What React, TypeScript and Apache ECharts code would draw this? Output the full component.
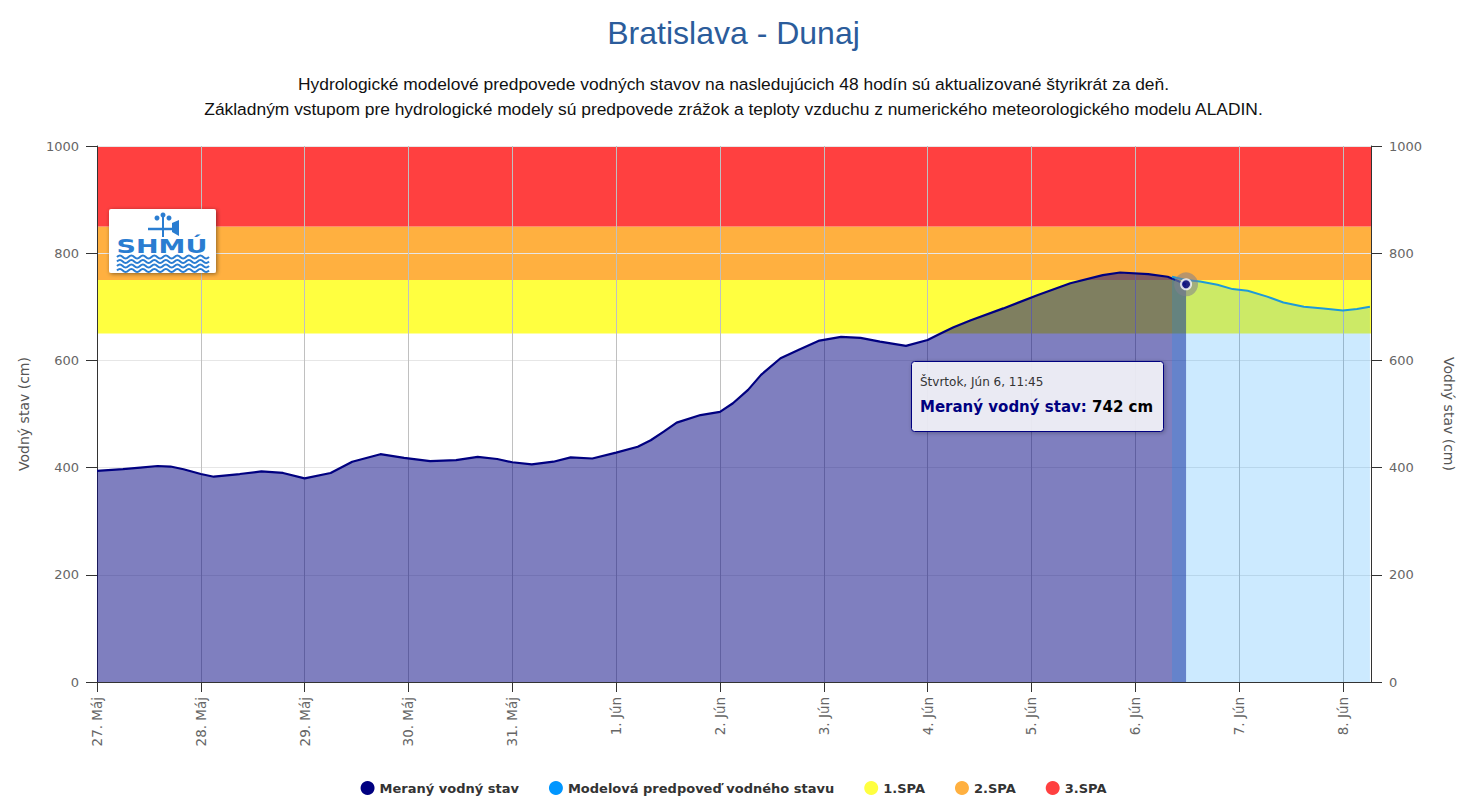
import React, { useEffect, useRef } from 'react';
import * as echarts from 'echarts';

// ---------- data ----------
const measuredTimes = [
  '2024-05-27 00:00', '2024-05-27 06:00', '2024-05-27 10:00', '2024-05-27 14:00', '2024-05-27 17:00', '2024-05-27 20:00',
  '2024-05-28 00:00', '2024-05-28 03:00', '2024-05-28 09:00', '2024-05-28 14:00', '2024-05-28 19:00',
  '2024-05-29 00:00', '2024-05-29 06:00', '2024-05-29 11:00', '2024-05-29 17:30', '2024-05-29 23:00',
  '2024-05-30 05:00', '2024-05-30 11:00', '2024-05-30 16:00', '2024-05-30 20:30',
  '2024-05-31 00:00', '2024-05-31 04:30', '2024-05-31 09:30', '2024-05-31 13:30', '2024-05-31 18:30',
  '2024-06-01 00:00', '2024-06-01 05:00', '2024-06-01 08:00', '2024-06-01 11:00', '2024-06-01 14:00', '2024-06-01 19:30',
  '2024-06-02 00:00', '2024-06-02 03:00', '2024-06-02 06:30', '2024-06-02 09:30', '2024-06-02 14:00', '2024-06-02 18:30', '2024-06-02 23:00',
  '2024-06-03 04:00', '2024-06-03 08:30', '2024-06-03 13:00', '2024-06-03 19:00',
  '2024-06-04 00:00', '2024-06-04 03:00', '2024-06-04 06:00', '2024-06-04 10:00', '2024-06-04 17:30',
  '2024-06-05 01:30', '2024-06-05 09:00', '2024-06-05 16:30', '2024-06-05 20:30',
  '2024-06-06 03:00', '2024-06-06 07:30', '2024-06-06 11:45',
];
const measuredValues = [
  394, 397, 400, 403, 402, 397,
  388, 383, 388, 393, 390,
  380, 390, 411, 425, 418,
  412, 414, 420, 416,
  410, 406, 411, 419, 417,
  428, 439, 451, 467, 484, 498,
  504, 520, 545, 573, 604, 621, 637,
  644, 642, 635, 627,
  638, 650, 662, 675, 697,
  722, 744, 759, 764,
  761, 756, 742,
];
const forecastTimes = [
  '2024-06-06 08:30', '2024-06-06 11:45', '2024-06-06 15:00', '2024-06-06 19:00', '2024-06-06 22:30',
  '2024-06-07 02:00', '2024-06-07 06:30', '2024-06-07 10:15', '2024-06-07 15:00', '2024-06-07 19:30',
  '2024-06-08 00:00', '2024-06-08 03:15', '2024-06-08 06:15',
];
const forecastValues = [756, 750, 747, 741, 733, 730, 719, 708, 700, 697, 693, 696, 700];

const axisStart = '2024-05-27 00:00';
const axisEnd = '2024-06-08 06:30';
const currentIndex = measuredValues.length - 1;
const currentLabel = 'Štvrtok, Jún 6, 11:45';

const spaNames = ['1.SPA', '2.SPA', '3.SPA'];
const spaLow = [650, 750, 850];
const spaHigh = [750, 850, 1000];
const spaColors = ['#ffff40', '#ffb040', '#ff4040'];

const yMin = 0;
const yMax = 1000;
const yStep = 200;
const monthNames = ['Jan', 'Feb', 'Mar', 'Apr', 'Máj', 'Jún', 'Júl', 'Aug', 'Sep', 'Okt', 'Nov', 'Dec'];

const measuredName = 'Meraný vodný stav';
const forecastName = 'Modelová predpoveď vodného stavu';
const titleText = 'Bratislava - Dunaj';
const subtitleLines = [
  'Hydrologické modelové predpovede vodných stavov na nasledujúcich 48 hodín sú aktualizované štyrikrát za deň.',
  'Základným vstupom pre hydrologické modely sú predpovede zrážok a teploty vzduchu z numerického meteorologického modelu ALADIN.',
];
const yAxisName = 'Vodný stav (cm)';

const DAY = 24 * 3600 * 1000;

const wavePath = 'M0 0 q2.9 -3 5.75 0' + ' t5.75 0'.repeat(15);
let registered = false;
function registerShapes() {
  if (registered) return;
  registered = true;
  echarts.graphic.registerShape('wave', echarts.graphic.extendPath(wavePath, {}) as any);
}

export default function App() {
  const ref = useRef<HTMLDivElement>(null);

  useEffect(() => {
    if (!ref.current) return;
    registerShapes();
    const chart = echarts.init(ref.current, undefined, { renderer: 'svg' });

    const measured = measuredTimes.map((t, i) => [t, measuredValues[i]]);
    const forecast = forecastTimes.map((t, i) => [t, forecastValues[i]]);
    const current = [[measuredTimes[currentIndex], measuredValues[currentIndex]]];

    const yAxisCommon = {
      type: 'value',
      min: yMin,
      max: yMax,
      interval: yStep,
      name: yAxisName,
      nameLocation: 'middle',
      nameTextStyle: { color: '#555', fontFamily: 'DejaVu Sans', fontSize: 14 },
      axisLine: { show: true, lineStyle: { color: '#333', width: 1 } },
      axisTick: { show: true, length: 11, lineStyle: { color: '#333' } },
      axisLabel: { color: '#666', fontFamily: 'DejaVu Sans', fontSize: 13, margin: 18, formatter: (v: number) => String(v) },
      z: 1,
    };

    const bandSeries = spaNames.map((name, i) => ({
      type: 'line',
      name,
      data: [],
      z: 0,
      itemStyle: { color: spaColors[i] },
      lineStyle: { color: spaColors[i] },
      markArea: {
        silent: true,
        z: 0,
        itemStyle: { color: spaColors[i], opacity: 1 },
        data: [[{ yAxis: spaLow[i] }, { yAxis: spaHigh[i] }]],
      },
    }));

    const subStyle = { color: '#111', fontSize: 17.4, fontWeight: 'normal', fontFamily: 'Liberation Sans' };

    const option: any = {
      animation: false,
      title: [
        {
          text: titleText,
          left: 'center',
          top: 12,
          textStyle: { color: '#2b5c9b', fontSize: 32, fontWeight: 'normal', fontFamily: 'Liberation Sans' },
        },
        ...subtitleLines.map((line, i) => ({
          text: line,
          left: 'center',
          top: 70 + i * 25,
          textStyle: subStyle,
        })),
      ],
      grid: { left: 97, right: 96, top: 146, bottom: 123, containLabel: false },
      legend: {
        data: [measuredName, forecastName, ...spaNames],
        left: 'center',
        top: 776,
        icon: 'circle',
        itemWidth: 14,
        itemHeight: 14,
        itemGap: 30,
        textStyle: { color: '#333', fontSize: 13, fontWeight: 'bold', fontFamily: 'DejaVu Sans' },
      },
      xAxis: {
        type: 'time',
        min: axisStart,
        max: axisEnd,
        minInterval: DAY,
        maxInterval: DAY,
        axisLine: { show: true, onZero: false, lineStyle: { color: '#333' } },
        axisTick: { show: true, length: 10, lineStyle: { color: '#333' } },
        axisLabel: {
          rotate: 90,
          color: '#666',
          fontFamily: 'DejaVu Sans',
          fontSize: 13.5,
          margin: 15,
          hideOverlap: false,
          formatter: (v: number) => {
            const d = new Date(v);
            return d.getDate() + '. ' + monthNames[d.getMonth()];
          },
        },
        splitLine: { show: true, lineStyle: { color: '#c0c0c0', width: 1 } },
        z: 1,
      },
      yAxis: [
        {
          ...yAxisCommon,
          position: 'left',
          nameGap: 66,
          nameRotate: 90,
          splitLine: { show: true, lineStyle: { color: '#e6e6e6' } },
        },
        {
          ...yAxisCommon,
          position: 'right',
          nameGap: 71,
          nameRotate: -90,
          splitLine: { show: false },
        },
      ],
      series: [
        ...bandSeries,
        {
          type: 'line',
          name: measuredName,
          data: measured,
          showSymbol: false,
          smooth: false,
          z: 2,
          itemStyle: { color: '#000080' },
          lineStyle: { color: '#000080', width: 2.2 },
          areaStyle: { color: '#000080', opacity: 0.5 },
        },
        {
          type: 'line',
          name: forecastName,
          data: forecast,
          showSymbol: false,
          z: 3,
          itemStyle: { color: '#0096ff' },
          lineStyle: { color: '#1e9ad8', width: 2 },
          areaStyle: { color: '#0096ff', opacity: 0.2 },
        },
        {
          type: 'scatter',
          name: 'halo',
          data: current,
          symbolSize: 24,
          z: 5,
          silent: true,
          itemStyle: { color: 'rgba(128,128,140,0.7)' },
        },
        {
          type: 'scatter',
          name: 'point',
          data: current,
          symbolSize: 10,
          z: 6,
          silent: true,
          itemStyle: { color: '#000080', borderColor: '#ffffff', borderWidth: 2 },
        },
      ],
      graphic: [
        // logo
        {
          type: 'rect',
          z: 50,
          shape: { x: 109, y: 209, width: 107, height: 64, r: 2 },
          style: { fill: '#ffffff', shadowBlur: 4, shadowColor: 'rgba(0,0,0,0.45)', shadowOffsetX: 1, shadowOffsetY: 1 },
        },
        {
          type: 'text',
          z: 51,
          x: 162,
          y: 246,
          scaleX: 1.35,
          style: {
            text: 'SHMÚ',
            fill: '#2a7dd1',
            font: 'bold 20px "DejaVu Sans"',
            align: 'center',
            verticalAlign: 'middle',
          },
        },
        ...[257, 261.5, 266, 270.5].map((y) => ({
          type: 'wave',
          z: 51,
          x: 117,
          y,
          style: { fill: 'none', stroke: '#2a7dd1', lineWidth: 2 },
        })),
        { type: 'line', z: 51, shape: { x1: 163, y1: 215, x2: 163, y2: 237 }, style: { stroke: '#2a7dd1', lineWidth: 2 } },
        { type: 'line', z: 51, shape: { x1: 148, y1: 229, x2: 177, y2: 229 }, style: { stroke: '#2a7dd1', lineWidth: 2.5 } },
        { type: 'polygon', z: 51, shape: { points: [[172, 223], [179, 220], [179, 236], [172, 232]] }, style: { fill: '#2a7dd1' } },
        { type: 'circle', z: 51, shape: { cx: 157, cy: 218, r: 2.5 }, style: { fill: '#2a7dd1' } },
        { type: 'circle', z: 51, shape: { cx: 163, cy: 215, r: 2.5 }, style: { fill: '#2a7dd1' } },
        { type: 'circle', z: 51, shape: { cx: 169, cy: 218, r: 2.5 }, style: { fill: '#2a7dd1' } },
        // tooltip
        {
          type: 'rect',
          z: 60,
          shape: { x: 911.5, y: 361.5, width: 252, height: 70, r: 3 },
          style: {
            fill: 'rgba(248,248,252,0.88)',
            stroke: '#000080',
            lineWidth: 1,
            shadowBlur: 4,
            shadowColor: 'rgba(0,0,0,0.3)',
            shadowOffsetX: 1,
            shadowOffsetY: 1,
          },
        },
        {
          type: 'text',
          z: 61,
          x: 920,
          y: 382,
          style: {
            text: currentLabel,
            fill: '#333',
            font: '12px "DejaVu Sans"',
            verticalAlign: 'middle',
          },
        },
        {
          type: 'text',
          z: 61,
          x: 920,
          y: 407,
          style: {
            text: '{a|' + measuredName + ': }{b|' + measuredValues[currentIndex] + ' cm}',
            verticalAlign: 'middle',
            rich: {
              a: { fill: '#000080', fontSize: 15, fontWeight: 'bold', fontFamily: 'DejaVu Sans', color: '#000080' },
              b: { fill: '#000', fontSize: 15, fontWeight: 'bold', fontFamily: 'DejaVu Sans', color: '#000' },
            },
          },
        },
      ],
    };

    chart.setOption(option);
    return () => chart.dispose();
  }, []);

  return (
    <div
      ref={ref}
      style={{ position: 'fixed', left: 0, top: 0, width: 1467, height: 805, background: '#fff' }}
    />
  );
}
